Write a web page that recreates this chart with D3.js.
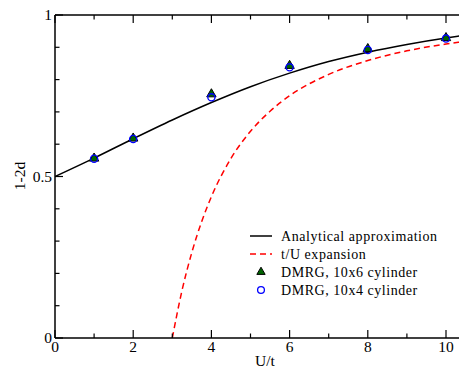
<!DOCTYPE html>
<html><head><meta charset="utf-8">
<script src="https://cdn.jsdelivr.net/npm/d3@7"></script>
<style>body{margin:0;background:#fff}svg{display:block}text{font-family:"Liberation Serif","DejaVu Serif",serif;fill:#000}</style>
</head><body><div id="chart"></div>
<script>
const analyticU = [0,1,2,3,4,5,6,7,8,9,10,10.35];
const analyticY = [0.5,0.557,0.617,0.675,0.729,0.778,0.820,0.856,0.885,0.909,0.929,0.935];
const expU = [3,3.25,3.5,3.75,4,4.5,5,5.5,6,7,8,9,10,10.35];
const expY = [0,0.148,0.265,0.36,0.4375,0.556,0.64,0.702,0.75,0.816,0.859,0.889,0.91,0.916];
const dmrgU = [1,2,4,6,8,10];
const dmrg6 = [0.556,0.618,0.755,0.843,0.895,0.929];
const dmrg4 = [0.555,0.616,0.745,0.838,0.892,0.927];
const xMajor = [0,2,4,6,8,10];
const xMinor = [1,3,5,7,9];
const yMajor = [0,0.5,1];
const yMinor = [0.1,0.2,0.3,0.4,0.6,0.7,0.8,0.9];
const legendLabels = ["Analytical approximation","t/U expansion","DMRG, 10x6 cylinder","DMRG, 10x4 cylinder"];

(function(){
const W=459,H=370;
const svg=d3.select("#chart").append("svg").attr("width",W).attr("height",H);
const x=d3.scaleLinear().domain([0,10]).range([55,446]);
const y=d3.scaleLinear().domain([0,1]).range([338,15]);
const xR=x(10.6), yTop=y(1), yBot=y(0), xL=x(0);

svg.append("clipPath").attr("id","c").append("rect").attr("x",xL).attr("y",yTop).attr("width",xR-xL).attr("height",yBot-yTop);

const line=d3.line().x(d=>x(d[0])).y(d=>y(d[1])).curve(d3.curveMonotoneX);
const g=svg.append("g").attr("clip-path","url(#c)");
g.append("path").datum(analyticU.map((u,i)=>[u,analyticY[i]])).attr("d",line).attr("fill","none").attr("stroke","#000").attr("stroke-width",1.5);
g.append("path").datum(expU.map((u,i)=>[u,expY[i]])).attr("d",line).attr("fill","none").attr("stroke","#ff0000").attr("stroke-width",1.5).attr("stroke-dasharray","6,4");

const tri=d3.symbol().type(d3.symbolTriangle).size(38);
svg.append("g").selectAll("path").data(dmrgU).join("path").attr("d",tri)
 .attr("transform",(u,i)=>`translate(${x(u)},${y(dmrg6[i])})`).attr("fill","#006400").attr("stroke","#000").attr("stroke-width",1);
svg.append("g").selectAll("circle").data(dmrgU).join("circle").attr("cx",u=>x(u)).attr("cy",(u,i)=>y(dmrg4[i])).attr("r",3.6)
 .attr("fill","none").attr("stroke","#0000ff").attr("stroke-width",1.3);

const ax=svg.append("g").attr("stroke","#000").attr("stroke-width",1.5);
ax.append("line").attr("x1",xL).attr("x2",xR).attr("y1",yBot).attr("y2",yBot);
ax.append("line").attr("x1",xL).attr("x2",xR).attr("y1",yTop).attr("y2",yTop);
ax.append("line").attr("x1",xL).attr("x2",xL).attr("y1",yTop).attr("y2",yBot);
const tk=svg.append("g").attr("stroke","#000").attr("stroke-width",1.2);
xMajor.forEach(v=>{tk.append("line").attr("x1",x(v)).attr("x2",x(v)).attr("y1",yBot).attr("y2",yBot-8);tk.append("line").attr("x1",x(v)).attr("x2",x(v)).attr("y1",yTop).attr("y2",yTop+8);});
xMinor.forEach(v=>{tk.append("line").attr("x1",x(v)).attr("x2",x(v)).attr("y1",yBot).attr("y2",yBot-4.5);tk.append("line").attr("x1",x(v)).attr("x2",x(v)).attr("y1",yTop).attr("y2",yTop+4.5);});
yMajor.forEach(v=>{tk.append("line").attr("x1",xL).attr("x2",xL+8).attr("y1",y(v)).attr("y2",y(v));});
yMinor.forEach(v=>{tk.append("line").attr("x1",xL).attr("x2",xL+4.5).attr("y1",y(v)).attr("y2",y(v));});

svg.append("g").selectAll("text").data(xMajor).join("text").attr("x",d=>x(d)).attr("y",352).attr("text-anchor","middle").attr("font-size",15.5).text(d=>d);
svg.append("g").selectAll("text").data(yMajor).join("text").attr("x",52).attr("y",d=>y(d)+5).attr("text-anchor","end").attr("font-size",15.5).text(d=>d);

svg.append("text").attr("x",265).attr("y",366).attr("text-anchor","middle").attr("font-size",15.5).text("U/t");
svg.append("text").attr("transform","translate(25,176) rotate(-90)").attr("text-anchor","middle").attr("font-size",15.5).text("1-2d");

const ly=[236,254,272,290];
const lg=svg.append("g");
lg.append("line").attr("x1",250).attr("x2",272).attr("y1",ly[0]).attr("y2",ly[0]).attr("stroke","#000").attr("stroke-width",1.5);
lg.append("line").attr("x1",250).attr("x2",272).attr("y1",ly[1]).attr("y2",ly[1]).attr("stroke","#ff0000").attr("stroke-width",1.5).attr("stroke-dasharray","6,4");
lg.append("path").attr("d",d3.symbol().type(d3.symbolTriangle).size(30)).attr("transform",`translate(261,${ly[2]})`).attr("fill","#006400").attr("stroke","#000").attr("stroke-width",1);
lg.append("circle").attr("cx",261).attr("cy",ly[3]).attr("r",3.4).attr("fill","none").attr("stroke","#0000ff").attr("stroke-width",1.3);
lg.selectAll("text").data(legendLabels).join("text").attr("x",281).attr("y",(d,i)=>ly[i]+4.5).attr("font-size",14).attr("letter-spacing",0.55).text(d=>d);
})();
</script></body></html>
